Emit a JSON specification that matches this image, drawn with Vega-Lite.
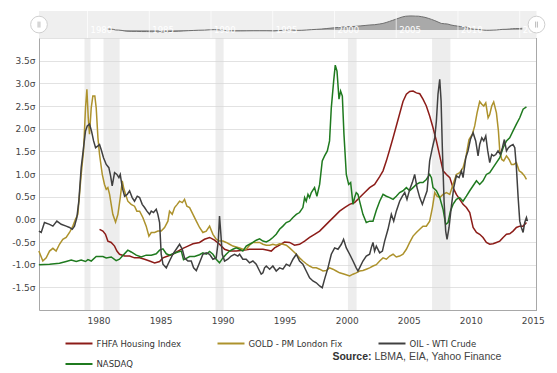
{
  "$schema": "https://vega.github.io/schema/vega-lite/v6.json",
  "padding": {"left": 11, "top": 10, "right": 5, "bottom": 5},
  "background": "white",
  "spacing": 0,
  "bounds": "flush",
  "config": {
    "view": {"stroke": null},
    "font": "DejaVu Sans",
    "axis": {"labelFont": "DejaVu Sans", "labelFontSize": 9, "labelColor": "#444444", "ticks": false, "title": null, "domainColor": "#a8a8a8", "labelOverlap": false, "labelFlush": false},
    "axisY": {"labelOverlap": false, "grid": true, "gridColor": "#e2e2e2", "labelPadding": 4, "tickCount": 12},
    "legend": {"labelFont": "DejaVu Sans", "labelFontSize": 8.5, "labelColor": "#333333"}
  },
  "datasets": {
    "one": [{}],
    "bands": [
      {"a": 1978.87, "b": 1979.35},
      {"a": 1980.4, "b": 1981.7},
      {"a": 1989.43, "b": 1990.08},
      {"a": 2000.1, "b": 2000.8},
      {"a": 2006.88, "b": 2008.36}
    ],
    "navyears": [{"yr": 1980}, {"yr": 1985}, {"yr": 1990}, {"yr": 1995}, {"yr": 2000}, {"yr": 2005}, {"yr": 2010}, {"yr": 2015}],
    "fhfa": [
      {"x": 1980.08, "y": -0.22}, {"x": 1980.35, "y": -0.26}, {"x": 1980.56, "y": -0.33}, {"x": 1980.75, "y": -0.48},
      {"x": 1981.02, "y": -0.51}, {"x": 1981.29, "y": -0.59}, {"x": 1981.48, "y": -0.7}, {"x": 1981.69, "y": -0.77},
      {"x": 1982.1, "y": -0.81}, {"x": 1982.5, "y": -0.81}, {"x": 1982.9, "y": -0.85}, {"x": 1983.31, "y": -0.85},
      {"x": 1983.71, "y": -0.88}, {"x": 1984.11, "y": -0.92}, {"x": 1984.52, "y": -0.96}, {"x": 1984.92, "y": -0.93},
      {"x": 1985.19, "y": -0.85}, {"x": 1985.59, "y": -0.81}, {"x": 1985.99, "y": -0.77}, {"x": 1986.4, "y": -0.7},
      {"x": 1986.8, "y": -0.64}, {"x": 1987.2, "y": -0.59}, {"x": 1987.61, "y": -0.54}, {"x": 1988.14, "y": -0.51},
      {"x": 1988.54, "y": -0.44}, {"x": 1988.95, "y": -0.4}, {"x": 1989.35, "y": -0.46}, {"x": 1989.75, "y": -0.55},
      {"x": 1990.16, "y": -0.66}, {"x": 1990.56, "y": -0.7}, {"x": 1991.1, "y": -0.7}, {"x": 1991.63, "y": -0.68},
      {"x": 1992.17, "y": -0.66}, {"x": 1992.71, "y": -0.66}, {"x": 1993.25, "y": -0.66}, {"x": 1993.65, "y": -0.68},
      {"x": 1993.92, "y": -0.7}, {"x": 1994.19, "y": -0.63}, {"x": 1994.59, "y": -0.57}, {"x": 1994.99, "y": -0.5},
      {"x": 1995.4, "y": -0.51}, {"x": 1995.8, "y": -0.57}, {"x": 1996.2, "y": -0.55}, {"x": 1996.61, "y": -0.48},
      {"x": 1997.01, "y": -0.4}, {"x": 1997.41, "y": -0.33}, {"x": 1997.82, "y": -0.26}, {"x": 1998.22, "y": -0.15},
      {"x": 1998.62, "y": -0.04}, {"x": 1999.03, "y": 0.07}, {"x": 1999.43, "y": 0.18}, {"x": 1999.83, "y": 0.26},
      {"x": 2000.24, "y": 0.33}, {"x": 2000.64, "y": 0.37}, {"x": 2001.04, "y": 0.48}, {"x": 2001.45, "y": 0.59},
      {"x": 2001.85, "y": 0.7}, {"x": 2002.25, "y": 0.77}, {"x": 2002.66, "y": 0.94}, {"x": 2002.93, "y": 1.07},
      {"x": 2003.2, "y": 1.29}, {"x": 2003.47, "y": 1.54}, {"x": 2003.74, "y": 1.8}, {"x": 2004.0, "y": 2.06},
      {"x": 2004.27, "y": 2.33}, {"x": 2004.54, "y": 2.6}, {"x": 2004.81, "y": 2.76}, {"x": 2005.08, "y": 2.82},
      {"x": 2005.35, "y": 2.83}, {"x": 2005.62, "y": 2.79}, {"x": 2005.89, "y": 2.77}, {"x": 2006.15, "y": 2.65},
      {"x": 2006.42, "y": 2.5}, {"x": 2006.69, "y": 2.28}, {"x": 2006.96, "y": 2.02}, {"x": 2007.23, "y": 1.73},
      {"x": 2007.5, "y": 1.4}, {"x": 2007.77, "y": 1.07}, {"x": 2008.04, "y": 0.99}, {"x": 2008.31, "y": 0.92},
      {"x": 2008.57, "y": 0.7}, {"x": 2008.84, "y": 0.55}, {"x": 2009.11, "y": 0.44}, {"x": 2009.38, "y": 0.33},
      {"x": 2009.65, "y": 0.26}, {"x": 2009.92, "y": 0.15}, {"x": 2010.19, "y": -0.18}, {"x": 2010.46, "y": -0.29},
      {"x": 2010.72, "y": -0.33}, {"x": 2010.99, "y": -0.4}, {"x": 2011.26, "y": -0.51}, {"x": 2011.53, "y": -0.55},
      {"x": 2011.8, "y": -0.54}, {"x": 2012.07, "y": -0.51}, {"x": 2012.34, "y": -0.48}, {"x": 2012.61, "y": -0.4},
      {"x": 2012.88, "y": -0.33}, {"x": 2013.14, "y": -0.32}, {"x": 2013.41, "y": -0.26}, {"x": 2013.68, "y": -0.18},
      {"x": 2013.95, "y": -0.15}, {"x": 2014.22, "y": -0.15}, {"x": 2014.49, "y": -0.07}
    ],
    "gold": [
      {"x": 1975.19, "y": -0.7}, {"x": 1975.51, "y": -0.92}, {"x": 1975.78, "y": -0.85}, {"x": 1976.05, "y": -0.7},
      {"x": 1976.32, "y": -0.64}, {"x": 1976.58, "y": -0.7}, {"x": 1976.85, "y": -0.55}, {"x": 1977.12, "y": -0.44},
      {"x": 1977.39, "y": -0.4}, {"x": 1977.66, "y": -0.29}, {"x": 1977.93, "y": -0.15}, {"x": 1978.14, "y": 0.0},
      {"x": 1978.33, "y": 0.11}, {"x": 1978.6, "y": 0.99}, {"x": 1978.79, "y": 1.51}, {"x": 1978.95, "y": 2.46},
      {"x": 1979.06, "y": 2.87}, {"x": 1979.17, "y": 2.24}, {"x": 1979.27, "y": 1.88}, {"x": 1979.41, "y": 2.46},
      {"x": 1979.54, "y": 2.72}, {"x": 1979.7, "y": 2.72}, {"x": 1979.81, "y": 2.46}, {"x": 1979.95, "y": 1.8},
      {"x": 1980.08, "y": 1.43}, {"x": 1980.3, "y": 0.99}, {"x": 1980.48, "y": 0.77}, {"x": 1980.62, "y": 0.66},
      {"x": 1980.75, "y": 0.7}, {"x": 1980.89, "y": 0.55}, {"x": 1981.15, "y": 0.11}, {"x": 1981.37, "y": -0.06},
      {"x": 1981.56, "y": 0.11}, {"x": 1981.75, "y": 0.48}, {"x": 1981.91, "y": 0.85}, {"x": 1982.02, "y": 0.7},
      {"x": 1982.18, "y": 0.55}, {"x": 1982.36, "y": 0.4}, {"x": 1982.63, "y": 0.33}, {"x": 1982.9, "y": 0.29},
      {"x": 1983.09, "y": 0.18}, {"x": 1983.31, "y": 0.18}, {"x": 1983.57, "y": 0.04}, {"x": 1983.84, "y": -0.15},
      {"x": 1984.06, "y": -0.37}, {"x": 1984.25, "y": -0.29}, {"x": 1984.52, "y": -0.29}, {"x": 1984.78, "y": -0.26},
      {"x": 1985.05, "y": -0.26}, {"x": 1985.32, "y": -0.18}, {"x": 1985.59, "y": -0.04}, {"x": 1985.72, "y": 0.18},
      {"x": 1985.94, "y": 0.11}, {"x": 1986.13, "y": 0.26}, {"x": 1986.34, "y": 0.33}, {"x": 1986.53, "y": 0.4},
      {"x": 1986.75, "y": 0.37}, {"x": 1986.93, "y": 0.44}, {"x": 1987.12, "y": 0.29}, {"x": 1987.34, "y": 0.26},
      {"x": 1987.61, "y": 0.11}, {"x": 1987.88, "y": -0.04}, {"x": 1988.14, "y": -0.18}, {"x": 1988.41, "y": -0.29},
      {"x": 1988.68, "y": -0.26}, {"x": 1988.95, "y": -0.15}, {"x": 1989.22, "y": -0.33}, {"x": 1989.48, "y": -0.44},
      {"x": 1989.75, "y": -0.48}, {"x": 1990.02, "y": -0.48}, {"x": 1990.29, "y": -0.51}, {"x": 1990.56, "y": -0.55},
      {"x": 1990.83, "y": -0.59}, {"x": 1991.1, "y": -0.61}, {"x": 1991.37, "y": -0.63}, {"x": 1991.63, "y": -0.66},
      {"x": 1991.9, "y": -0.66}, {"x": 1992.17, "y": -0.57}, {"x": 1992.44, "y": -0.51}, {"x": 1992.71, "y": -0.51},
      {"x": 1992.98, "y": -0.51}, {"x": 1993.25, "y": -0.55}, {"x": 1993.52, "y": -0.57}, {"x": 1993.79, "y": -0.57},
      {"x": 1994.05, "y": -0.55}, {"x": 1994.32, "y": -0.57}, {"x": 1994.59, "y": -0.54}, {"x": 1994.86, "y": -0.55},
      {"x": 1995.13, "y": -0.57}, {"x": 1995.4, "y": -0.63}, {"x": 1995.67, "y": -0.7}, {"x": 1995.94, "y": -0.77},
      {"x": 1996.2, "y": -0.85}, {"x": 1996.47, "y": -0.92}, {"x": 1996.74, "y": -0.98}, {"x": 1997.01, "y": -1.03},
      {"x": 1997.28, "y": -1.07}, {"x": 1997.55, "y": -1.07}, {"x": 1997.82, "y": -1.1}, {"x": 1998.09, "y": -1.14},
      {"x": 1998.36, "y": -1.13}, {"x": 1998.62, "y": -1.07}, {"x": 1998.89, "y": -1.1}, {"x": 1999.16, "y": -1.14},
      {"x": 1999.43, "y": -1.18}, {"x": 1999.83, "y": -1.21}, {"x": 2000.24, "y": -1.25}, {"x": 2000.51, "y": -1.21},
      {"x": 2000.77, "y": -1.18}, {"x": 2001.04, "y": -1.14}, {"x": 2001.31, "y": -1.13}, {"x": 2001.58, "y": -1.1},
      {"x": 2001.85, "y": -1.07}, {"x": 2002.12, "y": -1.03}, {"x": 2002.39, "y": -1.0}, {"x": 2002.66, "y": -0.92},
      {"x": 2002.93, "y": -0.85}, {"x": 2003.2, "y": -0.88}, {"x": 2003.47, "y": -0.81}, {"x": 2003.74, "y": -0.77},
      {"x": 2004.0, "y": -0.83}, {"x": 2004.27, "y": -0.81}, {"x": 2004.54, "y": -0.77}, {"x": 2004.81, "y": -0.66},
      {"x": 2005.08, "y": -0.51}, {"x": 2005.35, "y": -0.37}, {"x": 2005.62, "y": -0.29}, {"x": 2005.89, "y": -0.22},
      {"x": 2006.15, "y": -0.15}, {"x": 2006.42, "y": -0.15}, {"x": 2006.69, "y": -0.04}, {"x": 2006.91, "y": 0.26},
      {"x": 2007.1, "y": 0.59}, {"x": 2007.28, "y": 0.51}, {"x": 2007.5, "y": 0.48}, {"x": 2007.77, "y": 0.55},
      {"x": 2008.04, "y": 0.59}, {"x": 2008.31, "y": 0.55}, {"x": 2008.57, "y": 0.77}, {"x": 2008.84, "y": 0.99},
      {"x": 2009.11, "y": 1.03}, {"x": 2009.38, "y": 1.14}, {"x": 2009.6, "y": 1.36}, {"x": 2009.86, "y": 1.76},
      {"x": 2010.13, "y": 1.88}, {"x": 2010.32, "y": 2.06}, {"x": 2010.51, "y": 2.35}, {"x": 2010.72, "y": 2.6},
      {"x": 2010.89, "y": 2.54}, {"x": 2011.05, "y": 2.5}, {"x": 2011.21, "y": 2.57}, {"x": 2011.4, "y": 2.24},
      {"x": 2011.53, "y": 2.31}, {"x": 2011.69, "y": 2.5}, {"x": 2011.85, "y": 2.59}, {"x": 2012.07, "y": 2.35},
      {"x": 2012.23, "y": 1.95}, {"x": 2012.34, "y": 1.51}, {"x": 2012.5, "y": 1.32}, {"x": 2012.66, "y": 1.29},
      {"x": 2012.88, "y": 1.4}, {"x": 2013.09, "y": 1.32}, {"x": 2013.28, "y": 1.21}, {"x": 2013.47, "y": 1.21},
      {"x": 2013.68, "y": 1.25}, {"x": 2013.9, "y": 1.07}, {"x": 2014.11, "y": 1.03}, {"x": 2014.33, "y": 0.96},
      {"x": 2014.49, "y": 0.88}
    ],
    "oil": [
      {"x": 1975.19, "y": -0.26}, {"x": 1975.38, "y": -0.29}, {"x": 1975.64, "y": -0.07}, {"x": 1976.05, "y": -0.11},
      {"x": 1976.32, "y": -0.15}, {"x": 1976.64, "y": -0.04}, {"x": 1976.99, "y": -0.11}, {"x": 1977.39, "y": -0.15},
      {"x": 1977.66, "y": -0.18}, {"x": 1977.88, "y": -0.22}, {"x": 1978.06, "y": -0.15}, {"x": 1978.25, "y": 0.04},
      {"x": 1978.41, "y": 0.4}, {"x": 1978.6, "y": 1.14}, {"x": 1978.79, "y": 1.58}, {"x": 1978.95, "y": 1.95},
      {"x": 1979.09, "y": 2.06}, {"x": 1979.27, "y": 2.1}, {"x": 1979.43, "y": 1.95}, {"x": 1979.6, "y": 1.73},
      {"x": 1979.76, "y": 1.58}, {"x": 1979.95, "y": 1.62}, {"x": 1980.08, "y": 1.65}, {"x": 1980.21, "y": 1.54},
      {"x": 1980.4, "y": 1.36}, {"x": 1980.62, "y": 1.21}, {"x": 1980.83, "y": 1.14}, {"x": 1980.97, "y": 0.96},
      {"x": 1981.1, "y": 0.74}, {"x": 1981.29, "y": 1.03}, {"x": 1981.48, "y": 0.99}, {"x": 1981.64, "y": 0.92},
      {"x": 1981.75, "y": 0.99}, {"x": 1981.91, "y": 0.7}, {"x": 1982.1, "y": 0.51}, {"x": 1982.31, "y": 0.55},
      {"x": 1982.5, "y": 0.63}, {"x": 1982.71, "y": 0.48}, {"x": 1982.9, "y": 0.4}, {"x": 1983.12, "y": 0.51},
      {"x": 1983.31, "y": 0.48}, {"x": 1983.52, "y": 0.33}, {"x": 1983.71, "y": 0.26}, {"x": 1983.9, "y": 0.18},
      {"x": 1984.11, "y": 0.11}, {"x": 1984.25, "y": 0.18}, {"x": 1984.43, "y": 0.15}, {"x": 1984.65, "y": 0.22},
      {"x": 1984.78, "y": 0.11}, {"x": 1984.92, "y": -0.07}, {"x": 1985.05, "y": -0.77}, {"x": 1985.19, "y": -0.99},
      {"x": 1985.46, "y": -1.07}, {"x": 1985.72, "y": -0.92}, {"x": 1985.99, "y": -0.77}, {"x": 1986.26, "y": -0.66},
      {"x": 1986.53, "y": -0.55}, {"x": 1986.75, "y": -0.66}, {"x": 1986.93, "y": -0.85}, {"x": 1987.2, "y": -0.92},
      {"x": 1987.47, "y": -0.92}, {"x": 1987.66, "y": -1.07}, {"x": 1987.88, "y": -1.13}, {"x": 1988.09, "y": -0.99},
      {"x": 1988.41, "y": -0.77}, {"x": 1988.68, "y": -0.74}, {"x": 1988.95, "y": -0.77}, {"x": 1989.22, "y": -0.88},
      {"x": 1989.48, "y": -0.85}, {"x": 1989.65, "y": -0.48}, {"x": 1989.75, "y": 0.07}, {"x": 1989.86, "y": -0.33},
      {"x": 1989.97, "y": -0.77}, {"x": 1990.16, "y": -0.92}, {"x": 1990.42, "y": -0.88}, {"x": 1990.69, "y": -0.81},
      {"x": 1990.96, "y": -0.77}, {"x": 1991.23, "y": -0.81}, {"x": 1991.37, "y": -0.77}, {"x": 1991.63, "y": -0.88},
      {"x": 1991.9, "y": -0.88}, {"x": 1992.17, "y": -0.96}, {"x": 1992.44, "y": -0.92}, {"x": 1992.71, "y": -0.99},
      {"x": 1992.98, "y": -1.14}, {"x": 1993.11, "y": -1.21}, {"x": 1993.25, "y": -1.18}, {"x": 1993.38, "y": -1.07},
      {"x": 1993.52, "y": -1.03}, {"x": 1993.79, "y": -1.1}, {"x": 1994.05, "y": -1.03}, {"x": 1994.32, "y": -1.14},
      {"x": 1994.59, "y": -1.07}, {"x": 1994.86, "y": -1.1}, {"x": 1995.13, "y": -0.99}, {"x": 1995.4, "y": -1.03},
      {"x": 1995.67, "y": -0.88}, {"x": 1995.94, "y": -0.77}, {"x": 1996.2, "y": -0.92}, {"x": 1996.47, "y": -0.99},
      {"x": 1996.74, "y": -1.14}, {"x": 1997.01, "y": -1.29}, {"x": 1997.28, "y": -1.36}, {"x": 1997.55, "y": -1.4},
      {"x": 1997.82, "y": -1.47}, {"x": 1998.03, "y": -1.51}, {"x": 1998.22, "y": -1.32}, {"x": 1998.49, "y": -1.07},
      {"x": 1998.76, "y": -0.77}, {"x": 1999.03, "y": -0.63}, {"x": 1999.3, "y": -0.66}, {"x": 1999.57, "y": -0.55},
      {"x": 1999.75, "y": -0.44}, {"x": 1999.97, "y": -0.63}, {"x": 2000.24, "y": -0.77}, {"x": 2000.51, "y": -0.92},
      {"x": 2000.77, "y": -1.07}, {"x": 2000.91, "y": -1.14}, {"x": 2001.04, "y": -1.07}, {"x": 2001.31, "y": -0.92},
      {"x": 2001.58, "y": -0.81}, {"x": 2001.85, "y": -0.77}, {"x": 2001.98, "y": -0.63}, {"x": 2002.12, "y": -0.51},
      {"x": 2002.25, "y": -0.7}, {"x": 2002.39, "y": -0.59}, {"x": 2002.66, "y": -0.74}, {"x": 2002.88, "y": -0.7},
      {"x": 2003.06, "y": -0.48}, {"x": 2003.33, "y": -0.22}, {"x": 2003.6, "y": 0.11}, {"x": 2003.79, "y": -0.04},
      {"x": 2004.0, "y": 0.18}, {"x": 2004.27, "y": 0.4}, {"x": 2004.49, "y": 0.51}, {"x": 2004.68, "y": 0.59},
      {"x": 2004.86, "y": 0.44}, {"x": 2005.08, "y": 0.66}, {"x": 2005.29, "y": 0.81}, {"x": 2005.48, "y": 0.99},
      {"x": 2005.67, "y": 0.7}, {"x": 2005.89, "y": 0.48}, {"x": 2006.1, "y": 0.33}, {"x": 2006.29, "y": 0.48},
      {"x": 2006.48, "y": 0.63}, {"x": 2006.69, "y": 1.29}, {"x": 2006.91, "y": 1.58}, {"x": 2007.1, "y": 1.8},
      {"x": 2007.23, "y": 2.17}, {"x": 2007.36, "y": 2.76}, {"x": 2007.5, "y": 3.09}, {"x": 2007.61, "y": 2.61},
      {"x": 2007.71, "y": 1.58}, {"x": 2007.85, "y": 0.4}, {"x": 2007.98, "y": -0.26}, {"x": 2008.09, "y": -0.44},
      {"x": 2008.25, "y": -0.18}, {"x": 2008.44, "y": 0.29}, {"x": 2008.63, "y": 0.7}, {"x": 2008.84, "y": 0.96},
      {"x": 2009.06, "y": 0.92}, {"x": 2009.25, "y": 1.07}, {"x": 2009.38, "y": 0.92}, {"x": 2009.6, "y": 1.36},
      {"x": 2009.78, "y": 1.51}, {"x": 2009.97, "y": 1.76}, {"x": 2010.19, "y": 1.91}, {"x": 2010.4, "y": 1.73},
      {"x": 2010.59, "y": 1.4}, {"x": 2010.72, "y": 1.65}, {"x": 2010.89, "y": 1.8}, {"x": 2011.05, "y": 1.73},
      {"x": 2011.21, "y": 1.84}, {"x": 2011.37, "y": 1.51}, {"x": 2011.53, "y": 1.25}, {"x": 2011.69, "y": 1.43},
      {"x": 2011.85, "y": 1.4}, {"x": 2012.02, "y": 1.43}, {"x": 2012.2, "y": 1.51}, {"x": 2012.39, "y": 1.43},
      {"x": 2012.55, "y": 1.58}, {"x": 2012.71, "y": 1.76}, {"x": 2012.88, "y": 1.51}, {"x": 2013.04, "y": 1.58},
      {"x": 2013.2, "y": 1.62}, {"x": 2013.41, "y": 1.65}, {"x": 2013.55, "y": 1.58}, {"x": 2013.68, "y": 1.14},
      {"x": 2013.82, "y": 0.48}, {"x": 2013.95, "y": -0.04}, {"x": 2014.08, "y": -0.18}, {"x": 2014.22, "y": -0.29},
      {"x": 2014.35, "y": -0.07}, {"x": 2014.49, "y": 0.04}, {"x": 2014.57, "y": -0.04}
    ],
    "nasdaq": [
      {"x": 1975.19, "y": -1.0}, {"x": 1976.05, "y": -0.99}, {"x": 1976.85, "y": -0.97}, {"x": 1977.39, "y": -0.93},
      {"x": 1977.8, "y": -0.9}, {"x": 1978.2, "y": -0.93}, {"x": 1978.6, "y": -0.9}, {"x": 1978.95, "y": -0.93},
      {"x": 1979.14, "y": -0.89}, {"x": 1979.41, "y": -0.92}, {"x": 1979.81, "y": -0.82}, {"x": 1980.35, "y": -0.82},
      {"x": 1980.62, "y": -0.85}, {"x": 1981.02, "y": -0.83}, {"x": 1981.42, "y": -0.91}, {"x": 1981.69, "y": -0.88},
      {"x": 1981.96, "y": -0.8}, {"x": 1982.36, "y": -0.68}, {"x": 1982.63, "y": -0.72}, {"x": 1983.04, "y": -0.79},
      {"x": 1983.44, "y": -0.83}, {"x": 1983.84, "y": -0.79}, {"x": 1984.25, "y": -0.79}, {"x": 1984.65, "y": -0.76},
      {"x": 1984.92, "y": -0.68}, {"x": 1985.19, "y": -0.65}, {"x": 1985.46, "y": -0.76}, {"x": 1985.72, "y": -0.79},
      {"x": 1985.99, "y": -0.76}, {"x": 1986.4, "y": -0.72}, {"x": 1986.67, "y": -0.7}, {"x": 1986.85, "y": -0.89},
      {"x": 1987.07, "y": -0.86}, {"x": 1987.34, "y": -0.82}, {"x": 1987.74, "y": -0.82}, {"x": 1988.14, "y": -0.78},
      {"x": 1988.41, "y": -0.74}, {"x": 1988.68, "y": -0.77}, {"x": 1988.95, "y": -0.71}, {"x": 1989.22, "y": -0.77},
      {"x": 1989.48, "y": -0.88}, {"x": 1989.75, "y": -0.96}, {"x": 1990.02, "y": -0.85}, {"x": 1990.29, "y": -0.77},
      {"x": 1990.56, "y": -0.7}, {"x": 1990.83, "y": -0.66}, {"x": 1991.1, "y": -0.63}, {"x": 1991.37, "y": -0.66},
      {"x": 1991.63, "y": -0.7}, {"x": 1991.9, "y": -0.59}, {"x": 1992.17, "y": -0.55}, {"x": 1992.44, "y": -0.51},
      {"x": 1992.71, "y": -0.46}, {"x": 1992.98, "y": -0.43}, {"x": 1993.25, "y": -0.48}, {"x": 1993.52, "y": -0.5},
      {"x": 1993.79, "y": -0.46}, {"x": 1994.05, "y": -0.4}, {"x": 1994.32, "y": -0.33}, {"x": 1994.59, "y": -0.22},
      {"x": 1994.86, "y": -0.15}, {"x": 1995.13, "y": -0.07}, {"x": 1995.4, "y": -0.04}, {"x": 1995.67, "y": 0.04},
      {"x": 1995.94, "y": 0.11}, {"x": 1996.2, "y": 0.15}, {"x": 1996.47, "y": 0.26}, {"x": 1996.61, "y": 0.48},
      {"x": 1996.74, "y": 0.4}, {"x": 1996.88, "y": 0.55}, {"x": 1997.01, "y": 0.48}, {"x": 1997.15, "y": 0.59},
      {"x": 1997.41, "y": 0.7}, {"x": 1997.6, "y": 0.51}, {"x": 1997.82, "y": 0.77}, {"x": 1998.03, "y": 1.29},
      {"x": 1998.22, "y": 1.4}, {"x": 1998.44, "y": 1.51}, {"x": 1998.62, "y": 1.73}, {"x": 1998.76, "y": 2.46},
      {"x": 1998.95, "y": 3.05}, {"x": 1999.08, "y": 3.4}, {"x": 1999.22, "y": 3.27}, {"x": 1999.38, "y": 2.65},
      {"x": 1999.51, "y": 2.83}, {"x": 1999.65, "y": 2.72}, {"x": 1999.78, "y": 1.88}, {"x": 1999.97, "y": 0.99},
      {"x": 2000.16, "y": 0.77}, {"x": 2000.32, "y": 0.81}, {"x": 2000.51, "y": 0.33}, {"x": 2000.64, "y": 0.48},
      {"x": 2000.77, "y": 0.59}, {"x": 2000.91, "y": 0.55}, {"x": 2001.04, "y": 0.4}, {"x": 2001.31, "y": 0.11},
      {"x": 2001.58, "y": -0.07}, {"x": 2001.85, "y": -0.04}, {"x": 2002.12, "y": -0.04}, {"x": 2002.39, "y": 0.2},
      {"x": 2002.66, "y": 0.4}, {"x": 2002.93, "y": 0.55}, {"x": 2003.2, "y": 0.51}, {"x": 2003.47, "y": 0.48},
      {"x": 2003.74, "y": 0.44}, {"x": 2004.0, "y": 0.51}, {"x": 2004.27, "y": 0.59}, {"x": 2004.54, "y": 0.63},
      {"x": 2004.81, "y": 0.7}, {"x": 2005.08, "y": 0.63}, {"x": 2005.35, "y": 0.7}, {"x": 2005.62, "y": 0.77},
      {"x": 2005.89, "y": 0.81}, {"x": 2006.15, "y": 0.81}, {"x": 2006.42, "y": 0.88}, {"x": 2006.69, "y": 0.99},
      {"x": 2006.83, "y": 0.92}, {"x": 2006.96, "y": 0.7}, {"x": 2007.23, "y": 0.63}, {"x": 2007.5, "y": 0.48},
      {"x": 2007.77, "y": 0.22}, {"x": 2007.98, "y": -0.11}, {"x": 2008.17, "y": -0.07}, {"x": 2008.36, "y": 0.18},
      {"x": 2008.57, "y": 0.33}, {"x": 2008.84, "y": 0.44}, {"x": 2009.11, "y": 0.48}, {"x": 2009.38, "y": 0.4},
      {"x": 2009.65, "y": 0.51}, {"x": 2009.92, "y": 0.63}, {"x": 2010.19, "y": 0.74}, {"x": 2010.46, "y": 0.85},
      {"x": 2010.72, "y": 0.77}, {"x": 2010.99, "y": 0.85}, {"x": 2011.26, "y": 0.99}, {"x": 2011.53, "y": 1.03},
      {"x": 2011.8, "y": 1.14}, {"x": 2012.07, "y": 1.25}, {"x": 2012.34, "y": 1.36}, {"x": 2012.61, "y": 1.58},
      {"x": 2012.88, "y": 1.73}, {"x": 2013.14, "y": 1.8}, {"x": 2013.41, "y": 1.95}, {"x": 2013.68, "y": 2.1},
      {"x": 2013.95, "y": 2.24}, {"x": 2014.22, "y": 2.43}, {"x": 2014.49, "y": 2.48}
    ]
  },
  "resolve": {"scale": {"color": "independent"}, "legend": {"color": "independent"}},
  "vconcat": [
    {
      "width": 497.5,
      "height": 27,
      "view": {"fill": "#efefef", "stroke": null},
      "resolve": {"scale": {"x": "independent"}},
      "layer": [
        {
          "data": {"name": "fhfa"},
          "mark": {"type": "area", "color": "#8c8c8c", "line": {"color": "#6e6e6e", "strokeWidth": 1}},
          "encoding": {
            "x": {"field": "x", "type": "quantitative", "scale": {"domain": [1974.4, 2015.67], "nice": false, "zero": false}, "axis": null},
            "y": {"field": "y", "type": "quantitative", "scale": {"domain": [-2.37, 4], "nice": false, "zero": false}, "axis": null},
            "y2": {"datum": -0.48}
          }
        },
        {
          "data": {"name": "navyears"},
          "layer": [
            {
              "mark": {"type": "rule", "color": "#ffffff", "strokeWidth": 1, "opacity": 0.7},
              "encoding": {
                "x": {"field": "yr", "type": "quantitative", "scale": {"domain": [1976.07, 2016.36], "nice": false, "zero": false}, "axis": null}
              }
            },
            {
              "mark": {"type": "text", "color": "#ffffff", "align": "left", "baseline": "middle", "dx": 3, "fontSize": 8.5, "font": "DejaVu Sans"},
              "encoding": {
                "x": {"field": "yr", "type": "quantitative"},
                "y": {"datum": -0.48, "axis": null},
                "text": {"field": "yr", "type": "quantitative", "format": "d"}
              }
            }
          ]
        },
        {
          "data": {"name": "one"},
          "mark": {"type": "point", "filled": true, "fill": "#ffffff", "stroke": "#cfcfcf", "strokeWidth": 1, "size": 280, "opacity": 1},
          "encoding": {
            "x": {"datum": 1974.4, "scale": {"domain": [1974.4, 2015.67], "nice": false, "zero": false}, "axis": null},
            "y": {"datum": 0.8, "axis": null}
          }
        },
        {
          "data": {"name": "one"},
          "mark": {"type": "point", "filled": false, "shape": "M-0.3,-1V1M0.3,-1V1", "stroke": "#bbbbbb", "strokeWidth": 1, "size": 36, "opacity": 1},
          "encoding": {
            "x": {"datum": 1974.4, "scale": {"domain": [1974.4, 2015.67], "nice": false, "zero": false}, "axis": null},
            "y": {"datum": 0.8, "axis": null}
          }
        },
        {
          "data": {"name": "one"},
          "mark": {"type": "point", "filled": true, "fill": "#ffffff", "stroke": "#cfcfcf", "strokeWidth": 1, "size": 280, "opacity": 1},
          "encoding": {
            "x": {"datum": 2015.67, "scale": {"domain": [1974.4, 2015.67], "nice": false, "zero": false}, "axis": null},
            "y": {"datum": 0.8, "axis": null}
          }
        },
        {
          "data": {"name": "one"},
          "mark": {"type": "point", "filled": false, "shape": "M-0.3,-1V1M0.3,-1V1", "stroke": "#bbbbbb", "strokeWidth": 1, "size": 36, "opacity": 1},
          "encoding": {
            "x": {"datum": 2015.67, "scale": {"domain": [1974.4, 2015.67], "nice": false, "zero": false}, "axis": null},
            "y": {"datum": 0.8, "axis": null}
          }
        }
      ]
    },
    {
      "width": 497.5,
      "height": 272,
      "layer": [
        {
          "data": {"name": "bands"},
          "mark": {"type": "rect", "color": "#d8d8d8", "opacity": 0.45},
          "encoding": {
            "x": {
              "field": "a", "type": "quantitative",
              "scale": {"domain": [1975.2, 2015.3], "nice": false, "zero": false},
              "axis": {"values": [1980, 1985, 1990, 1995, 2000, 2005, 2010, 2015], "format": "d", "grid": false, "labelPadding": 6, "domain": true}
            },
            "x2": {"field": "b"}
          }
        },
        {
          "data": {"name": "fhfa"},
          "mark": {"type": "line", "strokeWidth": 1.5},
          "encoding": {
            "x": {"field": "x", "type": "quantitative"},
            "y": {
              "field": "y", "type": "quantitative",
              "scale": {"domain": [-2, 4], "nice": false, "zero": false},
              "axis": {"tickCount": 12, "labelOverlap": false, "grid": true, "labelExpr": "(datum.value <= -2 || datum.value >= 4) ? '' : ((datum.value < 0 ? '-' : '') + format(abs(datum.value), '.1f') + 'σ')"}
            },
            "color": {
              "datum": "FHFA Housing Index",
              "scale": {"domain": ["FHFA Housing Index", "GOLD - PM London Fix", "OIL - WTI Crude", "NASDAQ"], "range": ["#8c1c18", "#ad922c", "#404040", "#1f7a1f"]},
              "legend": {"orient": "none", "legendX": 25.5, "legendY": 291, "direction": "horizontal", "columns": 3, "gridAlign": "none", "title": null, "symbolType": "stroke", "symbolSize": 729, "symbolStrokeWidth": 2, "columnPadding": 32, "rowPadding": 1.5, "labelOffset": 3, "padding": 0}
            }
          }
        },
        {
          "data": {"name": "gold"},
          "mark": {"type": "line", "strokeWidth": 1.5},
          "encoding": {
            "x": {"field": "x", "type": "quantitative"},
            "y": {"field": "y", "type": "quantitative", "axis": {"tickCount": 12, "labelOverlap": false, "grid": true, "labelExpr": "(datum.value <= -2 || datum.value >= 4) ? '' : ((datum.value < 0 ? '-' : '') + format(abs(datum.value), '.1f') + 'σ')"}},
            "color": {"datum": "GOLD - PM London Fix"}
          }
        },
        {
          "data": {"name": "nasdaq"},
          "mark": {"type": "line", "strokeWidth": 1.5},
          "encoding": {
            "x": {"field": "x", "type": "quantitative"},
            "y": {"field": "y", "type": "quantitative", "axis": {"tickCount": 12, "labelOverlap": false, "grid": true, "labelExpr": "(datum.value <= -2 || datum.value >= 4) ? '' : ((datum.value < 0 ? '-' : '') + format(abs(datum.value), '.1f') + 'σ')"}},
            "color": {"datum": "NASDAQ"}
          }
        },
        {
          "data": {"name": "oil"},
          "mark": {"type": "line", "strokeWidth": 1.5},
          "encoding": {
            "x": {"field": "x", "type": "quantitative"},
            "y": {"field": "y", "type": "quantitative", "axis": {"tickCount": 12, "labelOverlap": false, "grid": true, "labelExpr": "(datum.value <= -2 || datum.value >= 4) ? '' : ((datum.value < 0 ? '-' : '') + format(abs(datum.value), '.1f') + 'σ')"}},
            "color": {"datum": "OIL - WTI Crude"}
          }
        },
        {
          "data": {"name": "one"},
          "mark": {"type": "rule", "color": "#a8a8a8", "strokeWidth": 1},
          "encoding": {"x": {"datum": 2015.3}}
        },
        {
          "data": {"name": "one"},
          "mark": {"type": "text", "text": "Source:", "font": "Liberation Sans", "fontSize": 10.5, "fontWeight": "bold", "color": "#333333", "align": "right", "baseline": "middle"},
          "encoding": {"x": {"datum": 2002.0}, "y": {"datum": -3.03, "axis": {"tickCount": 12, "labelOverlap": false, "grid": true, "labelExpr": "(datum.value <= -2 || datum.value >= 4) ? '' : ((datum.value < 0 ? '-' : '') + format(abs(datum.value), '.1f') + 'σ')"}}}
        },
        {
          "data": {"name": "one"},
          "mark": {"type": "text", "text": "LBMA, EIA, Yahoo Finance", "font": "Liberation Sans", "fontSize": 10.5, "color": "#444444", "align": "left", "baseline": "middle", "dx": 3},
          "encoding": {"x": {"datum": 2002.0}, "y": {"datum": -3.03, "axis": {"tickCount": 12, "labelOverlap": false, "grid": true, "labelExpr": "(datum.value <= -2 || datum.value >= 4) ? '' : ((datum.value < 0 ? '-' : '') + format(abs(datum.value), '.1f') + 'σ')"}}}
        }
      ]
    }
  ]
}
